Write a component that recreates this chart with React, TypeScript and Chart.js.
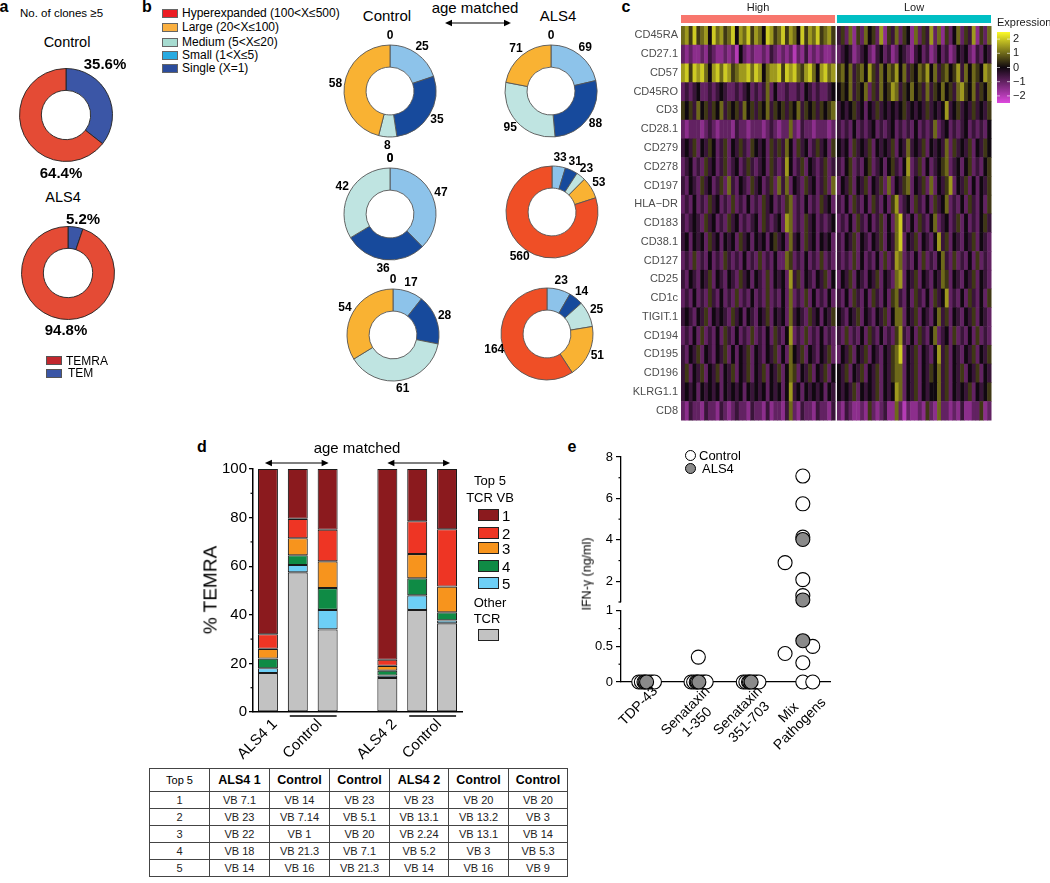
import React, { useEffect, useRef } from 'react';
import { Chart, registerables } from 'chart.js';

Chart.register(...registerables);

const FONT = "'Liberation Sans', Arial, Helvetica, sans-serif";
Chart.defaults.font.family = FONT;
Chart.defaults.color = '#000';

// ---------------- Panel a ----------------
const aSubsets = ['TEM', 'TEMRA'];
const aControl = [35.6, 64.4];
const aALS4 = [5.2, 94.8];
const aColors = ['#3b56a6', '#e44b35'];
const aLegendLabels = ['TEMRA', 'TEM'];
const aLegendColors = ['#c1272d', '#3b56a6'];

// ---------------- Panel b ----------------
const bClasses = ['Small (1<X≤5)', 'Single (X=1)', 'Medium (5<X≤20)', 'Large (20<X≤100)', 'Hyperexpanded (100<X≤500)'];
const bColors = ['#8dc3ea', '#174a9c', '#bfe4e1', '#f9b233', '#ef4f26'];
const bLegendColors = ['#27aae1', '#2b4c9c', '#a7dcd1', '#fbb040', '#ec1c24'];
const bLegendOrder = [4, 3, 2, 0, 1];
const bControl1 = [25, 35, 8, 58, 0];
const bControl2 = [47, 36, 42, 0, 0];
const bControl3 = [17, 28, 61, 54, 0];
const bALS4_1 = [69, 88, 95, 71, 0];
const bALS4_2 = [33, 31, 23, 53, 560];
const bALS4_3 = [23, 14, 25, 51, 164];

// ---------------- Panel c ----------------
const hmMarkers = ['CD45RA', 'CD27.1', 'CD57', 'CD45RO', 'CD3', 'CD28.1', 'CD279', 'CD278', 'CD197', 'HLA−DR', 'CD183', 'CD38.1', 'CD127', 'CD25', 'CD1c', 'TIGIT.1', 'CD194', 'CD195', 'CD196', 'KLRG1.1', 'CD8'];
// digits 0..8 = expression -2 .. 2 in steps of 0.5
const hmHigh = [
  '6758567486 7568476857 6487568576 4857685675',
  '2121121321 1212042121 1213212120 2131212112',
  '7858786478 6875677868 7467785878 6578647867',
  '2323422323 4322323423 2362422322 3243232234',
  '5453645354 6354536453 5463545354 6354535456',
  '2122212321 2221322122 2123212262 1322122212',
  '3435243542 3524353254 3425353642 5342353425',
  '2342325342 3523423532 3425323742 3524323523',
  '3243253423 5263243253 4235263624 3253423526',
  '2324232534 2325232423 2534232562 3242325342',
  '3234325342 3253423234 2532342762 3253423234',
  '3424342534 2434253424 3424534263 4253424342',
  '2325232423 2532324232 5232422652 3242325232',
  '3243243524 3243253424 3252434273 5243243524',
  '2324232532 4232523242 3252324262 3252423242',
  '3432435243 4325342432 4352434263 4325342435',
  '2324252324 2532423252 3242532472 3252324232',
  '3243524324 3524243524 3243524264 3524324352',
  '3524352435 2435243524 3524352465 2435243524',
  '3434243434 2434342434 3424342473 4243434243',
  '2132213221 3212322132 2131221362 1322132213',
];
const hmLow = [
  '3526152645 2715362541 6253726152 4625371526',
  '2343123421 3423124321 3423124231 2434213243',
  '5646356475 3646574635 4657463564 5736465476',
  '4546354625 3645763546 4536354645 3675463546',
  '3434534243 5343434534 3435343473 4534353435',
  '3232423234 2323423232 4232362342 3234232324',
  '4342534352 4343524363 4352434362 5343524354',
  '3245232452 3424532472 3524234562 3424523245',
  '2435243524 3526243562 4352624357 2435242435',
  '3242532425 3242572342 5324253462 3242532425',
  '2324253242 3524268324 2532462342 3524232453',
  '3243524324 3524368243 5243247352 4324352432',
  '3232524232 4252376232 4252324632 5232425232',
  '2435243243 5243267243 5243243652 4324352432',
  '3242532425 3242563242 5324253472 3242532425',
  '4324352432 4352466243 5243246352 4324352432',
  '3252324253 2423257324 2532462342 5232425232',
  '2435243524 3243568243 5243247352 4324352435',
  '4352435243 5243566243 5243546352 4352435243',
  '4343524343 5243476243 5243446352 4343524345',
  '2132112152 1231162021 1215216221 2131122512',
];
const hmGroups = ['High', 'Low'];
const hmGroupColors = ['#f8766d', '#00bfc4'];
const hmLegendTicks = [2, 1, 0, -1, -2];

// ---------------- Panel d ----------------
const dSamples = ['ALS4 1', 'Control', 'Control', '', 'ALS4 2', 'Control', 'Control'];
const dOther = [16, 57.5, 34, null, 14, 42, 36.5];
const dVB5 = [2, 3, 8, null, 1, 6, 1.2];
const dVB4 = [4, 4, 9, null, 2, 7, 3.3];
const dVB3 = [4, 7, 11, null, 2, 10, 10.6];
const dVB2 = [6, 8, 13, null, 2.5, 13.5, 23.6];
const dVB1 = [68, 20.5, 25, null, 78.5, 21.5, 24.8];
const dVBLabels = ['1', '2', '3', '4', '5'];
const dVBColors = ['#8b1a1e', '#ee3524', '#f7941d', '#0f8b45', '#6dcff6'];
const dOtherColor = '#c2c2c2';
const dXLabels = [
  { text: 'ALS4 1', from: 0, to: 0 },
  { text: 'Control', from: 1, to: 2 },
  { text: 'ALS4 2', from: 4, to: 4 },
  { text: 'Control', from: 5, to: 6 },
];
const tableHeader = ['Top 5', 'ALS4 1', 'Control', 'Control', 'ALS4 2', 'Control', 'Control'];
const tableRows = [
  ['1', 'VB 7.1', 'VB 14', 'VB 23', 'VB 23', 'VB 20', 'VB 20'],
  ['2', 'VB 23', 'VB 7.14', 'VB 5.1', 'VB 13.1', 'VB 13.2', 'VB 3'],
  ['3', 'VB 22', 'VB 1', 'VB 20', 'VB 2.24', 'VB 13.1', 'VB 14'],
  ['4', 'VB 18', 'VB 21.3', 'VB 7.1', 'VB 5.2', 'VB 3', 'VB 5.3'],
  ['5', 'VB 14', 'VB 16', 'VB 21.3', 'VB 14', 'VB 16', 'VB 9'],
];

// ---------------- Panel e ----------------
const eCategories = [['TDP-43'], ['Senataxin', '1-350'], ['Senataxin', '351-703'], ['Mix', 'Pathogens']];
const eControl = [
  { x: -0.16, y: 0 }, { x: -0.11, y: 0 }, { x: -0.06, y: 0 }, { x: 0.04, y: 0 }, { x: 0.09, y: 0 }, { x: 0.14, y: 0 },
  { x: 0.84, y: 0 }, { x: 0.89, y: 0 }, { x: 0.94, y: 0 }, { x: 1.04, y: 0 }, { x: 1.09, y: 0 }, { x: 1.13, y: 0 }, { x: 0.98, y: 0.35 },
  { x: 1.84, y: 0 }, { x: 1.89, y: 0 }, { x: 1.94, y: 0 }, { x: 2.04, y: 0 }, { x: 2.09, y: 0 }, { x: 2.14, y: 0 },
  { x: 2.64, y: 2.9 }, { x: 2.64, y: 0.4 }, { x: 2.98, y: 7.08 }, { x: 2.98, y: 5.74 }, { x: 2.98, y: 4.13 },
  { x: 2.98, y: 2.08 }, { x: 2.98, y: 1.31 }, { x: 2.98, y: 0.27 }, { x: 2.98, y: 0 }, { x: 3.17, y: 0.5 }, { x: 3.17, y: 0 },
];
const eALS4 = [
  { x: -0.04, y: 0 }, { x: -0.01, y: 0 },
  { x: 0.96, y: 0 }, { x: 0.99, y: 0 },
  { x: 1.96, y: 0 }, { x: 1.99, y: 0 },
  { x: 2.98, y: 4.02 }, { x: 2.98, y: 1.1 }, { x: 2.98, y: 0.58 },
];
const eBreak = 1;
const eTopTicks = [2, 4, 6, 8];
const eTopMinor = [1, 3, 5, 7];
const eBottomTicks = [0, 0.5, 1];
const eBottomMinor = [0.25, 0.75];
const eALS4Color = '#8a8a8a';

// ---------------- helpers ----------------
const base: any = {
  responsive: false,
  animation: false,
  devicePixelRatio: 1,
  events: [],
  plugins: { legend: { display: false }, tooltip: { enabled: false }, title: { display: false } },
};

function heatColor(v: number) {
  const t = Math.max(-2.5, Math.min(2.5, v)) / 2.5;
  const neg = [222, 72, 222];
  const zero = [16, 8, 16];
  const pos = [252, 250, 40];
  const a = t < 0 ? neg : pos;
  const k = Math.abs(t);
  const c = zero.map((z, i) => Math.round(z + (a[i] - z) * k));
  return `rgb(${c[0]},${c[1]},${c[2]})`;
}
const clean = (s: string) => s.replace(/ /g, '');
const level = (ch: string) => (Number(ch) - 4) * 0.5;

function ChartBox({ x, y, w, h, make }: any) {
  const ref = useRef<HTMLCanvasElement>(null);
  useEffect(() => {
    const chart = new Chart(ref.current as HTMLCanvasElement, make());
    return () => chart.destroy();
  }, []);
  return <canvas ref={ref} width={w} height={h} style={{ position: 'absolute', left: x, top: y, width: w, height: h, display: 'block' }} />;
}

function T({ x, y, s = 12, b = false, a = 'c', c = '#000', rot = 0, children }: any) {
  const tx = a === 'c' ? '-50%' : a === 'r' ? '-100%' : '0';
  return (
    <div style={{ position: 'absolute', left: x, top: y, transform: `translate(${tx}, -50%)${rot ? ` rotate(${rot}deg)` : ''}`, fontSize: s, fontWeight: b ? 700 : 400, color: c, whiteSpace: 'nowrap', lineHeight: 1, fontFamily: FONT }}>
      {children}
    </div>
  );
}

function Rect({ x, y, w, h, color, border = '#333' }: any) {
  return <div style={{ position: 'absolute', left: x, top: y, width: w, height: h, background: color, border: `1px solid ${border}`, boxSizing: 'border-box' }} />;
}

const arcLabels = {
  id: 'arcLabels',
  afterDatasetsDraw(chart: any) {
    const meta = chart.getDatasetMeta(0);
    const vals = chart.data.datasets[0].data;
    const ctx = chart.ctx;
    ctx.save();
    ctx.font = `bold 12px ${FONT}`;
    ctx.fillStyle = '#000';
    ctx.textAlign = 'center';
    ctx.textBaseline = 'middle';
    meta.data.forEach((arc: any, i: number) => {
      const p = arc.getProps(['x', 'y', 'startAngle', 'endAngle', 'outerRadius'], true);
      const mid = (p.startAngle + p.endAngle) / 2;
      const r = p.outerRadius + 9;
      ctx.fillText(String(vals[i]), p.x + Math.cos(mid) * r, p.y + Math.sin(mid) * r);
    });
    ctx.restore();
  },
};

const donut = (values: number[], colors: string[], radius: number, cutout: string, border: string, withLabels: boolean) => () => ({
  type: 'doughnut',
  data: { labels: values.map((_, i) => String(i)), datasets: [{ data: values, backgroundColor: colors, borderColor: border, borderWidth: 0.9 }] },
  options: { ...base, radius, cutout, layout: { padding: 0 } },
  plugins: withLabels ? [arcLabels] : [],
});

function arrow(ctx: any, x1: number, x2: number, y: number) {
  ctx.beginPath();
  ctx.moveTo(x1 + 3, y);
  ctx.lineTo(x2 - 3, y);
  ctx.stroke();
  ctx.beginPath();
  ctx.moveTo(x1, y); ctx.lineTo(x1 + 7, y - 3.2); ctx.lineTo(x1 + 7, y + 3.2); ctx.closePath(); ctx.fill();
  ctx.beginPath();
  ctx.moveTo(x2, y); ctx.lineTo(x2 - 7, y - 3.2); ctx.lineTo(x2 - 7, y + 3.2); ctx.closePath(); ctx.fill();
}

// ---------------- heatmap ----------------
const heatPlugin = {
  id: 'heat',
  beforeDatasetsDraw(chart: any) {
    const { ctx, chartArea: ca, scales } = chart;
    const xs = scales.x, ys = scales.y;
    const rowH = (ca.bottom - ca.top) / hmMarkers.length;
    const nH = clean(hmHigh[0]).length;
    ctx.save();
    hmMarkers.forEach((_, r) => {
      const yc = ys.getPixelForValue(r);
      const draw = (str: string, off: number) => {
        const s = clean(str);
        for (let c = 0; c < s.length; c++) {
          const x0 = xs.getPixelForValue(c + off);
          const x1 = xs.getPixelForValue(c + off + 1);
          ctx.fillStyle = heatColor(level(s[c]));
          ctx.fillRect(x0, yc - rowH / 2, x1 - x0 + 0.5, rowH + 0.5);
        }
      };
      draw(hmHigh[r], 0);
      draw(hmLow[r], nH + 0.5);
    });
    ctx.restore();
  },
  afterDraw(chart: any) {
    const { ctx, chartArea: ca, scales } = chart;
    const xs = scales.x;
    const nH = clean(hmHigh[0]).length;
    const nL = clean(hmLow[0]).length;
    const spans = [[0, nH], [nH + 0.5, nH + 0.5 + nL]];
    ctx.save();
    ctx.font = `11px ${FONT}`;
    ctx.textAlign = 'center';
    ctx.textBaseline = 'middle';
    spans.forEach(([a, b], i) => {
      const x0 = xs.getPixelForValue(a), x1 = xs.getPixelForValue(b);
      ctx.fillStyle = hmGroupColors[i];
      ctx.fillRect(x0, ca.top - 11, x1 - x0, 8);
      ctx.fillStyle = '#1a1a1a';
      ctx.fillText(hmGroups[i], (x0 + x1) / 2, ca.top - 18);
    });
    const lx = ca.right + 6, ly0 = ca.top + 6, ly1 = ca.top + 77;
    ctx.textAlign = 'left';
    ctx.fillText('Expression', lx, ca.top - 3);
    const g = ctx.createLinearGradient(0, ly0, 0, ly1);
    g.addColorStop(0, heatColor(2.5));
    g.addColorStop(0.5, heatColor(0));
    g.addColorStop(1, heatColor(-2.5));
    ctx.fillStyle = g;
    ctx.fillRect(lx, ly0, 13, ly1 - ly0);
    hmLegendTicks.forEach((v) => {
      const py = ly0 + ((2.5 - v) / 5) * (ly1 - ly0);
      ctx.strokeStyle = 'rgba(255,255,255,0.8)';
      ctx.lineWidth = 0.8;
      ctx.beginPath(); ctx.moveTo(lx, py); ctx.lineTo(lx + 3, py); ctx.moveTo(lx + 10, py); ctx.lineTo(lx + 13, py); ctx.stroke();
      ctx.fillStyle = '#1a1a1a';
      ctx.fillText(v < 0 ? `−${Math.abs(v)}` : String(v), lx + 16, py);
    });
    ctx.restore();
  },
};

const heatConfig = () => ({
  type: 'scatter',
  data: { datasets: [{ data: [] }] },
  options: {
    ...base,
    layout: { padding: { top: 26, right: 59, bottom: 20, left: 0 } },
    scales: {
      x: { type: 'linear', display: false, min: 0, max: clean(hmHigh[0]).length + clean(hmLow[0]).length + 0.5 },
      y: {
        type: 'category', labels: hmMarkers, offset: true,
        grid: { display: false, drawTicks: false, tickLength: 0 }, border: { display: false },
        ticks: { font: { size: 11 }, color: '#4d4d4d', padding: 3, autoSkip: false },
        afterFit: (s: any) => { s.width = 51; },
      },
    },
  },
  plugins: [heatPlugin],
});

// ---------------- stacked bars ----------------
const dPlugin = {
  id: 'dDecor',
  afterDraw(chart: any) {
    const { ctx, chartArea: ca, scales } = chart;
    const x = scales.x, y = scales.y;
    ctx.save();
    ctx.strokeStyle = '#000';
    ctx.fillStyle = '#000';
    ctx.lineWidth = 1.2;
    [10, 30, 50, 70, 90].forEach((v) => {
      const py = y.getPixelForValue(v);
      ctx.beginPath(); ctx.moveTo(ca.left - 2.5, py); ctx.lineTo(ca.left, py); ctx.stroke();
    });
    arrow(ctx, x.getPixelForValue(0) - 3, x.getPixelForValue(2) + 1, ca.top - 6);
    arrow(ctx, x.getPixelForValue(4), x.getPixelForValue(6) + 3, ca.top - 6);
    ctx.lineWidth = 1.3;
    dXLabels.forEach((l) => {
      const p0 = x.getPixelForValue(l.from), p1 = x.getPixelForValue(l.to);
      if (l.from !== l.to) {
        ctx.beginPath(); ctx.moveTo(p0 - 8, ca.bottom + 4); ctx.lineTo(p1 + 9, ca.bottom + 4); ctx.stroke();
      }
      ctx.save();
      ctx.translate((p0 + p1) / 2 + 7, ca.bottom + 10);
      ctx.rotate(-Math.PI / 4);
      ctx.font = `15px ${FONT}`;
      ctx.textAlign = 'right';
      ctx.textBaseline = 'middle';
      ctx.fillText(l.text, 0, 0);
      ctx.restore();
    });
    ctx.restore();
  },
};

const dConfig = () => {
  const series = [dOther, dVB5, dVB4, dVB3, dVB2, dVB1];
  const colors = [dOtherColor, dVBColors[4], dVBColors[3], dVBColors[2], dVBColors[1], dVBColors[0]];
  const names = ['Other TCR', '5', '4', '3', '2', '1'];
  return {
    type: 'bar',
    data: {
      labels: dSamples,
      datasets: series.map((d, i) => ({ label: names[i], data: d, backgroundColor: colors[i], borderColor: '#1a1a1a', borderWidth: 1.1, borderSkipped: false })),
    },
    options: {
      ...base,
      layout: { padding: { top: 29, right: 68, left: 0, bottom: 0 } },
      datasets: { bar: { barPercentage: 0.67, categoryPercentage: 1 } },
      scales: {
        x: { stacked: true, grid: { display: false }, ticks: { display: false }, border: { color: '#000', width: 1.5 }, afterFit: (s: any) => { s.height = 48; } },
        y: {
          stacked: true, min: 0, max: 100,
          ticks: { stepSize: 20, font: { size: 15 }, color: '#000', padding: 2 },
          grid: { drawOnChartArea: false, drawTicks: true, tickLength: 4, color: '#000', lineWidth: 1.3 },
          border: { color: '#000', width: 1.5 },
          afterFit: (s: any) => { s.width = 63; },
        },
      },
    },
    plugins: [dPlugin],
  };
};

// ---------------- dot plot with broken axis ----------------
const minorTicks = (vals: number[], len: number) => ({
  id: 'minorTicks',
  afterDraw(chart: any) {
    const { ctx, chartArea: ca, scales } = chart;
    ctx.save();
    ctx.strokeStyle = '#000';
    ctx.lineWidth = 1.2;
    vals.forEach((v) => {
      const py = scales.y.getPixelForValue(v);
      ctx.beginPath(); ctx.moveTo(ca.left - len, py); ctx.lineTo(ca.left, py); ctx.stroke();
    });
    ctx.restore();
  },
});

const eXLabels = {
  id: 'eXLabels',
  afterDraw(chart: any) {
    const { ctx, chartArea: ca, scales } = chart;
    ctx.save();
    ctx.font = `14px ${FONT}`;
    ctx.fillStyle = '#000';
    eCategories.forEach((lines, i) => {
      const px = scales.x.getPixelForValue(i);
      const maxW = Math.max(...lines.map((l) => ctx.measureText(l).width));
      ctx.save();
      ctx.translate(px, ca.bottom);
      ctx.rotate(-Math.PI / 4);
      ctx.textAlign = 'center';
      ctx.textBaseline = 'middle';
      lines.forEach((l, j) => ctx.fillText(l, -maxW / 2 + 1, 11 + j * 16));
      ctx.restore();
    });
    ctx.restore();
  },
};

const eDatasets = (keep: (v: number) => boolean) => [
  { label: 'ALS4', data: eALS4.filter((p) => keep(p.y)), backgroundColor: eALS4Color, borderColor: '#000', borderWidth: 1.1, pointRadius: 7, clip: false },
  { label: 'Control', data: eControl.filter((p) => keep(p.y)), backgroundColor: '#fff', borderColor: '#000', borderWidth: 1.1, pointRadius: 7, clip: false },
];

const eYAxis = (min: number, max: number, ticks: number[]) => ({
  min, max,
  afterBuildTicks: (s: any) => { s.ticks = ticks.map((v) => ({ value: v })); },
  ticks: { font: { size: 13 }, color: '#000', padding: 3, callback: (v: any) => String(v) },
  grid: { drawOnChartArea: false, drawTicks: true, tickLength: 5, color: '#000', lineWidth: 1.2 },
  border: { color: '#000', width: 1.3 },
  afterFit: (s: any) => { s.width = 81; },
});

const eTopConfig = () => ({
  type: 'scatter',
  data: { datasets: eDatasets((v) => v > eBreak) },
  options: {
    ...base,
    layout: { padding: { top: 17, right: 40, bottom: 13, left: 0 } },
    scales: { x: { type: 'linear', display: false, min: -0.5, max: 3.5 }, y: eYAxis(1, 8, eTopTicks) },
  },
  plugins: [minorTicks(eTopMinor, 2.5)],
});

const eBottomConfig = () => ({
  type: 'scatter',
  data: { datasets: eDatasets((v) => v <= eBreak) },
  options: {
    ...base,
    layout: { padding: { top: 9, right: 40, bottom: 0, left: 0 } },
    scales: {
      x: { type: 'linear', min: -0.5, max: 3.5, grid: { display: false }, ticks: { display: false }, border: { color: '#000', width: 1.3 }, afterFit: (s: any) => { s.height = 88; } },
      y: eYAxis(0, 1, eBottomTicks),
    },
  },
  plugins: [minorTicks(eBottomMinor, 2.5), eXLabels],
});

// ---------------- App ----------------
export default function App() {
  const bDonuts = [
    { v: bControl1, cx: 390, cy: 90.5 },
    { v: bALS4_1, cx: 550.5, cy: 90.5 },
    { v: bControl2, cx: 390, cy: 214 },
    { v: bALS4_2, cx: 552, cy: 212 },
    { v: bControl3, cx: 393, cy: 334.5 },
    { v: bALS4_3, cx: 547, cy: 334 },
  ];
  const legendRowsB = [13, 27, 42, 55, 68];
  const dLegendY = [514.5, 533, 547.5, 565.5, 583];
  const colW = [60, 60, 60, 60, 59, 60, 59];
  return (
    <div style={{ position: 'absolute', left: 0, top: 0, width: 1050, height: 883, background: '#fff', overflow: 'hidden', fontFamily: FONT }}>
      {/* panel letters */}
      <T x={4} y={7} s={16} b>a</T>
      <T x={147} y={7} s={16} b>b</T>
      <T x={626} y={7} s={16} b>c</T>
      <T x={202} y={447} s={16} b>d</T>
      <T x={572} y={447} s={16} b>e</T>

      {/* panel a */}
      <T x={20} y={14} s={11.5} a="l">No. of clones ≥5</T>
      <T x={67} y={42} s={14.5}>Control</T>
      <T x={63} y={197} s={14.5}>ALS4</T>
      <ChartBox x={65.5 - 55} y={114.5 - 55} w={110} h={110} make={donut(aControl, aColors, 46.5, '53%', '#222', false)} />
      <ChartBox x={67.5 - 55} y={272.5 - 55} w={110} h={110} make={donut(aALS4, aColors, 46.5, '53%', '#222', false)} />
      <T x={105} y={63} s={15} b>{aControl[0]}%</T>
      <T x={61} y={172} s={15} b>{aControl[1]}%</T>
      <T x={83} y={218} s={15} b>{aALS4[0]}%</T>
      <T x={66} y={329} s={15} b>{aALS4[1]}%</T>
      {aLegendLabels.map((l, i) => (
        <React.Fragment key={l}>
          <Rect x={46} y={356 + i * 12.5} w={16} h={9} color={aLegendColors[i]} border="#555" />
          <T x={66 + (i === 1 ? 2 : 0)} y={360.5 + i * 12.5} s={12} a="l">{l}</T>
        </React.Fragment>
      ))}

      {/* panel b */}
      {bLegendOrder.map((idx, i) => (
        <React.Fragment key={idx}>
          <Rect x={162} y={legendRowsB[i] - 4.5} w={16} h={9} color={bLegendColors[idx]} border="#666" />
          <T x={182} y={legendRowsB[i]} s={12} a="l">{bClasses[idx]}</T>
        </React.Fragment>
      ))}
      <T x={387} y={15} s={15}>Control</T>
      <T x={475} y={7} s={15}>age matched</T>
      <T x={558} y={15} s={15}>ALS4</T>
      <svg style={{ position: 'absolute', left: 440, top: 17 }} width={76} height={12}>
        <line x1={7} y1={6} x2={69} y2={6} stroke="#000" strokeWidth={1.2} />
        <polygon points="5,6 12,2.8 12,9.2" fill="#000" />
        <polygon points="71,6 64,2.8 64,9.2" fill="#000" />
      </svg>
      {bDonuts.map((d, i) => (
        <ChartBox key={i} x={d.cx - 75} y={d.cy - 75} w={150} h={150} make={donut(d.v, bColors, 46, '52%', '#555', true)} />
      ))}

      {/* panel c */}
      <ChartBox x={630} y={0} w={420} h={440} make={heatConfig} />

      {/* panel d */}
      <ChartBox x={190} y={440} w={340} h={320} make={dConfig} />
      <T x={357} y={447} s={15}>age matched</T>
      <T x={210} y={590} s={19} rot={-90}>% TEMRA</T>
      <T x={490} y={480} s={13}>Top 5</T>
      <T x={490} y={497} s={13}>TCR VB</T>
      {dVBLabels.map((l, i) => (
        <React.Fragment key={l}>
          <Rect x={478} y={dLegendY[i] - 6} w={21} h={12} color={dVBColors[i]} border="#222" />
          <T x={502} y={dLegendY[i]} s={15} a="l">{l}</T>
        </React.Fragment>
      ))}
      <T x={490} y={602} s={13}>Other</T>
      <T x={487} y={618} s={13}>TCR</T>
      <Rect x={478} y={629} w={21} h={12} color={dOtherColor} border="#222" />

      <table style={{ position: 'absolute', left: 149, top: 768, borderCollapse: 'collapse', tableLayout: 'fixed', width: 418, fontFamily: FONT, color: '#222' }}>
        <colgroup>
          {colW.map((w, i) => <col key={i} style={{ width: w }} />)}
        </colgroup>
        <thead>
          <tr style={{ height: 23 }}>
            {tableHeader.map((h, i) => (
              <th key={i} style={{ border: '1.5px solid #444', padding: 0, fontSize: i === 0 ? 11 : 12.5, fontWeight: i === 0 ? 400 : 700, color: '#000', textAlign: 'center', lineHeight: '14px' }}>{h}</th>
            ))}
          </tr>
        </thead>
        <tbody>
          {tableRows.map((r, ri) => (
            <tr key={ri} style={{ height: 17 }}>
              {r.map((c, ci) => (
                <td key={ci} style={{ border: '1.5px solid #444', padding: 0, fontSize: 11, textAlign: 'center', lineHeight: '13px' }}>{c}</td>
              ))}
            </tr>
          ))}
        </tbody>
      </table>

      {/* panel e */}
      <ChartBox x={540} y={440} w={330} h={175} make={eTopConfig} />
      <ChartBox x={540} y={600} w={330} h={170} make={eBottomConfig} />
      <T x={587} y={574} s={12.5} rot={-90}>IFN-γ (ng/ml)</T>
      <div style={{ position: 'absolute', left: 684.5, top: 449.5, width: 11, height: 11, borderRadius: '50%', border: '1px solid #000', background: '#fff', boxSizing: 'border-box' }} />
      <div style={{ position: 'absolute', left: 684.5, top: 462.5, width: 11, height: 11, borderRadius: '50%', border: '1px solid #000', background: eALS4Color, boxSizing: 'border-box' }} />
      <T x={699} y={455} s={13} a="l">Control</T>
      <T x={702} y={468} s={13} a="l">ALS4</T>
    </div>
  );
}
